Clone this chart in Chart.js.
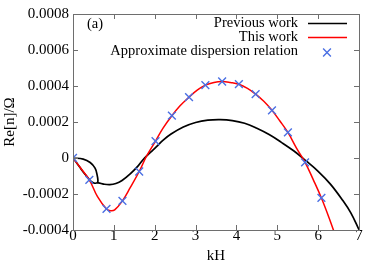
<!DOCTYPE html>
<html>
<head>
<meta charset="utf-8">
<script src="https://cdn.jsdelivr.net/npm/chart.js@4/dist/chart.umd.min.js"></script>
<style>
  html, body { margin: 0; padding: 0; background: #fff; }
</style>
</head>
<body>
<canvas id="chartDisp" width="374" height="265"></canvas>
<script>
// tick values / labels
const xTicks = [0, 1, 2, 3, 4, 5, 6, 7];
const yTicks = [-0.0004, -0.0002, 0, 0.0002, 0.0004, 0.0006, 0.0008];
const yTickLabels = ['-0.0004', '-0.0002', '0', '0.0002', '0.0004', '0.0006', '0.0008'];

// Previous work (main branch)
const prevX = [0, 0.1, 0.2, 0.3, 0.37, 0.45, 0.52, 0.62, 0.75, 0.9, 1.05, 1.2, 1.4, 1.6, 1.75, 1.9, 2.05, 2.2, 2.4, 2.7, 3.0, 3.3, 3.6, 3.9, 4.2, 4.5, 4.8, 5.1, 5.4, 5.7, 6.0, 6.3, 6.6, 6.8, 7.0];
const prevY = [0, -0.00003, -0.000062, -0.000092, -0.000112, -0.000132, -0.00014, -0.000138, -0.000145, -0.000148, -0.000142, -0.000125, -0.000088, -0.000042, 0, 0.000032, 0.000064, 0.000098, 0.000133, 0.000172, 0.000197, 0.00021, 0.000213, 0.000208, 0.000193, 0.000165, 0.00013, 0.000087, 0.00004, -0.000015, -0.000074, -0.000145, -0.000235, -0.000305, -0.000398];
// Previous work (small loop near the origin)
const prevLoopX = [0, 0.25, 0.42, 0.54, 0.59, 0.61, 0.6];
const prevLoopY = [0, -0.000006, -0.000025, -0.000056, -0.000094, -0.000125, -0.000138];

// This work
const thisX = [0, 0.2, 0.4, 0.6, 0.82, 0.92, 1.02, 1.21, 1.4, 1.62, 1.8, 2.02, 2.2, 2.42, 2.62, 2.84, 3.04, 3.24, 3.45, 3.65, 3.85, 4.06, 4.27, 4.47, 4.67, 4.87, 5.06, 5.26, 5.47, 5.68, 5.88, 6.08, 6.28, 6.45];
const thisY = [0, -0.00006, -0.000121, -0.000215, -0.000283, -0.000293, -0.000288, -0.000238, -0.000165, -0.000075, 0.00001, 0.000094, 0.000165, 0.000235, 0.00029, 0.000338, 0.000377, 0.000405, 0.00042, 0.000425, 0.00042, 0.00041, 0.000387, 0.000355, 0.000315, 0.000265, 0.000207, 0.000142, 0.000055, -0.000024, -0.00012, -0.000222, -0.00034, -0.00045];

// Approximate dispersion relation
const approxX = [0, 0.4, 0.82, 1.21, 1.62, 2.02, 2.42, 2.84, 3.24, 3.65, 4.06, 4.47, 4.87, 5.26, 5.68, 6.08];
const approxY = [0, -0.000121, -0.000283, -0.000238, -0.000075, 0.000094, 0.000235, 0.000338, 0.000405, 0.000425, 0.00041, 0.000355, 0.000265, 0.000142, -0.000024, -0.000222];

const serif = "'Liberation Serif', 'DejaVu Serif', serif";
const toPts = (xs, ys) => xs.map((x, i) => ({ x: x, y: ys[i] }));

// frame, inward ticks, "(a)" and the legend, gnuplot style
const framePlugin = {
    id: 'frame',
    afterDatasetsDraw(chart) {
        const { ctx, chartArea: a, scales } = chart;
        ctx.save();
        ctx.strokeStyle = '#6e6e6e';
        ctx.lineWidth = 1;
        ctx.beginPath();
        xTicks.forEach(v => {
            const px = Math.round(scales.x.getPixelForValue(v)) + 0.5;
            ctx.moveTo(px, a.bottom); ctx.lineTo(px, a.bottom - 5);
            ctx.moveTo(px, a.top); ctx.lineTo(px, a.top + 5);
        });
        yTicks.forEach(v => {
            const py = Math.round(scales.y.getPixelForValue(v)) + 0.5;
            ctx.moveTo(a.left, py); ctx.lineTo(a.left + 5, py);
            ctx.moveTo(a.right, py); ctx.lineTo(a.right - 5, py);
        });
        ctx.stroke();
        ctx.strokeRect(Math.round(a.left) + 0.5, Math.round(a.top) + 0.5,
            Math.round(a.right - a.left), Math.round(a.bottom - a.top));

        ctx.fillStyle = '#000';
        ctx.font = '14.5px ' + serif;
        ctx.textBaseline = 'middle';
        ctx.textAlign = 'left';
        ctx.fillText('(a)', a.left + 14, a.top + 10);

        // legend
        ctx.textAlign = 'right';
        chart.data.datasets.slice(0, 3).forEach((ds, i) => {
            const y = a.top + 9.5 + i * 14;
            ctx.fillStyle = '#000';
            ctx.fillText(ds.label, a.right - 61, y);
            ctx.strokeStyle = ds.borderColor;
            ctx.lineWidth = ds.borderWidth;
            ctx.beginPath();
            if (ds.showLine) {
                ctx.moveTo(a.right - 51, y); ctx.lineTo(a.right - 12, y);
            } else {
                const r = ds.pointRadius * 0.707, cx = a.right - 32, cy = y + 1;
                ctx.moveTo(cx - r, cy - r); ctx.lineTo(cx + r, cy + r);
                ctx.moveTo(cx + r, cy - r); ctx.lineTo(cx - r, cy + r);
            }
            ctx.stroke();
        });
        ctx.restore();
    }
};

const ctx = document.getElementById('chartDisp').getContext('2d');
const chartDisp = new Chart(ctx, {
    type: 'scatter',
    data: {
        datasets: [
            {
                label: 'Previous work',
                data: toPts(prevX, prevY),
                showLine: true, borderColor: '#000', borderWidth: 1.7,
                pointRadius: 0, tension: 0.4, order: 2
            },
            {
                label: 'This work',
                data: toPts(thisX, thisY),
                showLine: true, borderColor: '#ff0000', borderWidth: 1.5,
                pointRadius: 0, tension: 0.4, order: 1
            },
            {
                label: 'Approximate dispersion relation',
                data: toPts(approxX, approxY),
                showLine: false, borderColor: '#4a6fe3', backgroundColor: '#4a6fe3',
                borderWidth: 1.4, pointStyle: 'crossRot', pointRadius: 5.5, order: 0
            },
            {
                label: 'Previous work (loop)',
                data: toPts(prevLoopX, prevLoopY),
                showLine: true, borderColor: '#000', borderWidth: 1.7,
                pointRadius: 0, tension: 0.4, order: 2
            }
        ]
    },
    options: {
        responsive: false,
        animation: false,
        events: [],
        layout: { padding: { top: 14, right: 15, left: 0, bottom: 0 } },
        plugins: { legend: { display: false }, tooltip: { enabled: false } },
        scales: {
            x: {
                type: 'linear', min: 0, max: 7,
                afterBuildTicks: s => { s.ticks = xTicks.map(v => ({ value: v })); },
                afterFit: s => { s.height = 35; },
                grid: { display: false, drawTicks: false },
                border: { display: false },
                ticks: { color: '#000', font: { family: serif, size: 15 }, padding: -3, maxRotation: 0, autoSkip: false },
                title: { display: true, text: 'kH', color: '#000', font: { family: serif, size: 15 }, padding: { top: 0, bottom: 0 } }
            },
            y: {
                type: 'linear', min: -0.0004, max: 0.0008,
                afterBuildTicks: s => { s.ticks = yTicks.map(v => ({ value: v })); },
                afterFit: s => { s.width = 73; },
                grid: { display: false, drawTicks: false },
                border: { display: false },
                ticks: {
                    color: '#000', font: { family: serif, size: 15 }, padding: 4, autoSkip: false,
                    callback: v => yTickLabels[yTicks.findIndex(t => Math.abs(t - v) < 1e-9)]
                },
                title: { display: true, text: 'Re[n]/Ω', color: '#000', font: { family: serif, size: 15 }, padding: { top: 1, bottom: 0 } }
            }
        }
    },
    plugins: [framePlugin]
});
</script>
</body>
</html>
